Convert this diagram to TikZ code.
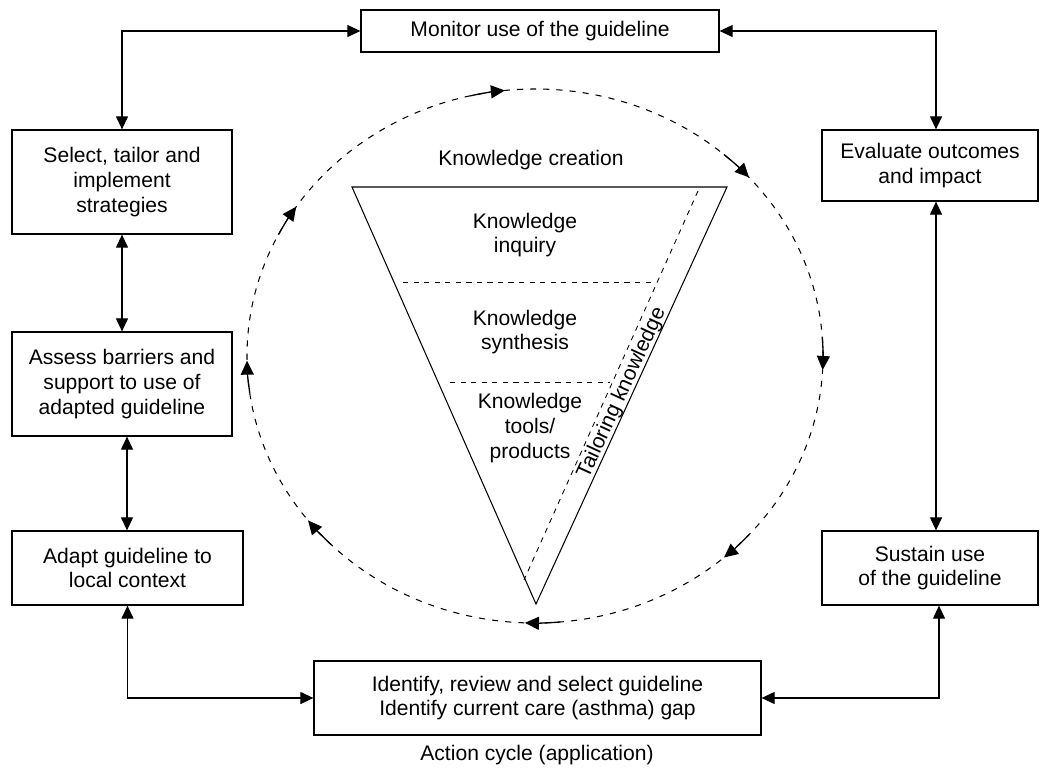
\documentclass[tikz,border=0pt]{standalone}
\usepackage{fontspec}
\setmainfont{Liberation Sans}
\usetikzlibrary{positioning}
\usetikzlibrary{arrows.meta}

\begin{document}
\begin{tikzpicture}[font=\fontsize{12pt}{14pt}\selectfont,
  box/.style={draw, line width=0.7pt, align=center, inner sep=0pt},
  link/.style={line width=0.65pt, {Triangle[length=0.26cm,width=0.24cm]}-{Triangle[length=0.26cm,width=0.24cm]}}]
\useasboundingbox (0,0) rectangle (20.84,-15.38);
%boxes
\node[box, minimum width=7.16cm, minimum height=0.84cm] (monitor) at (10.8,-0.62) {Monitor use of the guideline};
\node[box, minimum width=4.4cm, minimum height=2.08cm] (select) at (2.44,-3.64) {Select, tailor and\\implement\\strategies};
\node[box, minimum width=4.4cm, minimum height=2.08cm] (assess) at (2.44,-7.68) {Assess barriers and\\support to use of\\adapted guideline};
\node[box, minimum width=4.62cm, minimum height=1.48cm] (adapt) at (2.55,-11.36) {Adapt guideline to\\local context};
\node[box, minimum width=4.32cm, minimum height=1.42cm] (evaluate) at (18.6,-3.31) {Evaluate outcomes\\and impact};
\node[box, minimum width=4.32cm, minimum height=1.48cm] (sustain) at (18.6,-11.36) {Sustain use\\of the guideline};
\node[box, minimum width=8.94cm, minimum height=1.48cm] (identify) at (10.75,-13.96) {Identify, review and select guideline\\Identify current care (asthma) gap};
\node (cycle) at (10.74,-15.1) {Action cycle (application)};

%links
\draw[link] (select.north) |- (monitor.west);
\draw[link] ([xshift=0.12cm]evaluate.north) |- (monitor.east);
\draw[link] (select) -- (assess);
\draw[link] ([xshift=0.1cm]assess.south) -- ([xshift=0.1cm]assess.south |- adapt.north);
\draw[link] (adapt.south) |- (identify.west);
\draw[link] ([xshift=0.18cm]sustain.south) |- (identify.east);
\draw[link] ([xshift=0.12cm]evaluate.south) -- ([xshift=0.12cm]sustain.north);

%cycle
\draw[line width=0.6pt, dash pattern=on 3.5pt off 4pt] (10.7,-7.12) ellipse [x radius=5.76, y radius=5.34];
\foreach \a in {96,42,-3,-49,-92,218,181,146}
  \draw[line width=0.75pt, -{Triangle[length=0.28cm,width=0.26cm]}] (10.7,-7.12) ++({\a+7}:5.76 and 5.34) arc[start angle=\a+7, end angle=\a, x radius=5.76, y radius=5.34];

%funnel
\draw[line width=0.6pt] (7.04,-3.74) -- (14.54,-3.74) -- (10.72,-12.08) -- cycle;
\draw[dashed, line width=0.5pt] (8.06,-5.64) -- (13.04,-5.64);
\draw[dashed, line width=0.5pt] (9.0,-7.64) -- (12.2,-7.64);
\draw[dashed, line width=0.5pt] (13.96,-3.82) -- (10.48,-11.6);
\node (creation) at (10.62,-3.2) {Knowledge creation};
\node[align=center] (inquiry) at (10.5,-4.7) {Knowledge\\inquiry};
\node[align=center] (synthesis) at (10.5,-6.64) {Knowledge\\synthesis};
\node[align=center] (tools) at (10.6,-8.56) {Knowledge\\tools/\\products};
\node[rotate=65.4, inner sep=0pt] (tailoring) at (12.44,-7.86) {Tailoring knowledge};
\end{tikzpicture}
\end{document}
